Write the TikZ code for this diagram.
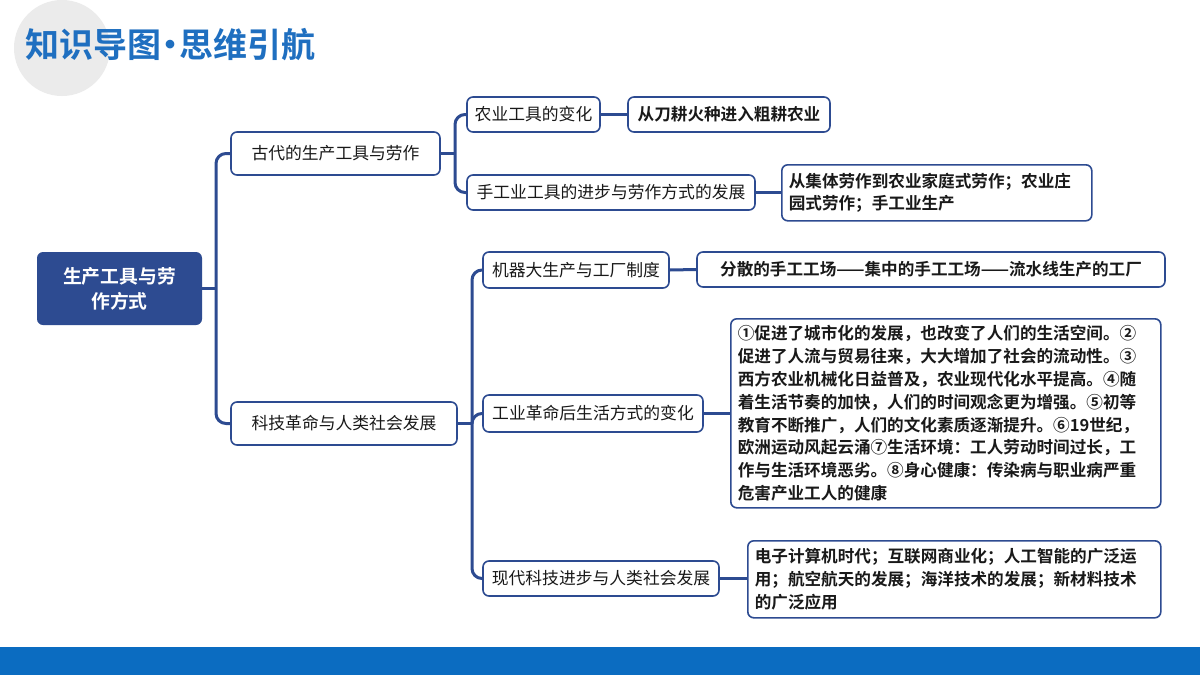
\documentclass[tikz,border=0pt]{standalone}
\usepackage{fontspec}
\newfontfamily\cjk{Noto Sans CJK SC}[BoldFont={Noto Sans CJK SC Bold}]
\definecolor{navy}{HTML}{2D4B91}
\definecolor{tblue}{HTML}{1F6FC0}
\definecolor{barblue}{HTML}{0B6CC1}
\tikzset{
 box/.style={draw=navy,line width=0.8pt,rounded corners=3pt,fill=white,inner sep=0pt,font=\cjk\fontsize{8.4}{10.5}\selectfont,text=black!90},
 leaf/.style={box,font=\cjk\bfseries\fontsize{8.3}{11.4}\selectfont,align=left,anchor=north west,inner xsep=3.5pt,inner ysep=3pt},
 link/.style={draw=navy,line width=1.5pt,rounded corners=5pt}
}
\begin{document}
\begin{tikzpicture}[x=0.5pt,y=-0.5pt]
\useasboundingbox (0,0) rectangle (1200,675);
\fill[white] (0,0) rectangle (1200,675);
\fill[black!8] (62,48) circle (48);
\fill[barblue] (0,647) rectangle (1200,675);
\node[anchor=west,text=tblue,font=\cjk\bfseries\fontsize{17}{17}\selectfont] (title) at (18,45) {知识导图\kern-4pt·\kern-4pt思维引航};
% root
\node[fill=navy,rounded corners=3pt,minimum width=82.5pt,minimum height=36.5pt,text=white,align=center,font=\cjk\bfseries\fontsize{9.4}{12.5}\selectfont] (root) at (119.5,288.5) {生产工具与劳\\作方式};
% level 1
\node[box,minimum width=104.5pt,minimum height=21.5pt] (a) at (335.5,153.5) {古代的生产工具与劳作};
\node[box,minimum width=113pt,minimum height=21.5pt] (b) at (344,423.5) {科技革命与人类社会发展};
% level 2
\node[box,minimum width=66.5pt,minimum height=17.5pt] (a1) at (533.5,114.5) {农业工具的变化};
\node[box,minimum width=144pt,minimum height=17.5pt] (a2) at (611,192.5) {手工业工具的进步与劳作方式的发展};
\node[box,minimum width=93pt,minimum height=18pt] (b1) at (576,270) {机器大生产与工厂制度};
\node[box,minimum width=110pt,minimum height=18.5pt] (b2) at (593,413.5) {工业革命后生活方式的变化};
\node[box,minimum width=118pt,minimum height=17.5pt] (b3) at (601,578.5) {现代科技进步与人类社会发展};
% level 3
\node[box,font=\cjk\bfseries\fontsize{8.3}{10.5}\selectfont,minimum width=101pt,minimum height=17.5pt] (a1x) at (729,114.5) {从刀耕火种进入粗耕农业};
\node[leaf,text width=148pt,minimum height=28pt] (a2x) at (781,164) {从集体劳作到农业家庭式劳作；农业庄\\园式劳作；手工业生产};
\node[box,font=\cjk\bfseries\fontsize{8.3}{10.5}\selectfont,minimum width=234pt,minimum height=17.5pt] (b1x) at (931,269.5) {分散的手工工场——集中的手工工场——流水线生产的工厂};
\node[leaf,text width=208pt,minimum height=94.5pt] (b2x) at (730,318) {①促进了城市化的发展，也改变了人们的生活空间。②\\促进了人流与贸易往来，大大增加了社会的流动性。③\\西方农业机械化日益普及，农业现代化水平提高。④随\\着生活节奏的加快，人们的时间观念更为增强。⑤初等\\教育不断推广，人们的文化素质逐渐提升。⑥19世纪，\\欧洲运动风起云涌⑦生活环境：工人劳动时间过长，工\\作与生活环境恶劣。⑧身心健康：传染病与职业病严重\\危害产业工人的健康};
\node[leaf,text width=199.5pt,minimum height=38.5pt] (b3x) at (747,540) {电子计算机时代；互联网商业化；人工智能的广泛运\\用；航空航天的发展；海洋技术的发展；新材料技术\\的广泛应用};
% connectors
\coordinate (t0) at (216,288.5);
\draw[link] (root.east) -- (t0);
\draw[link] (a.west) -| (t0) |- (b.west);
\coordinate (t1) at (455,153.5);
\draw[link] (a.east) -- (t1);
\draw[link] (a1.west) -| (t1) |- (a2.west);
\coordinate (t2) at (472,423.5);
\draw[link] (b.east) -- (t2);
\draw[link] (b1.west) -| (t2) |- (b3.west);
\draw[link] (t2) |- (b2.west);
\draw[link] (a1.east) -- (a1x.west);
\draw[link] (a2.east) -- (a2.east -| a2x.west);
\draw[link] (b1.east) -- (b1x.west);
\draw[link] (b2.east) -- (b2.east -| b2x.west);
\draw[link] (b3.east) -- (b3.east -| b3x.west);
\end{tikzpicture}
\end{document}
